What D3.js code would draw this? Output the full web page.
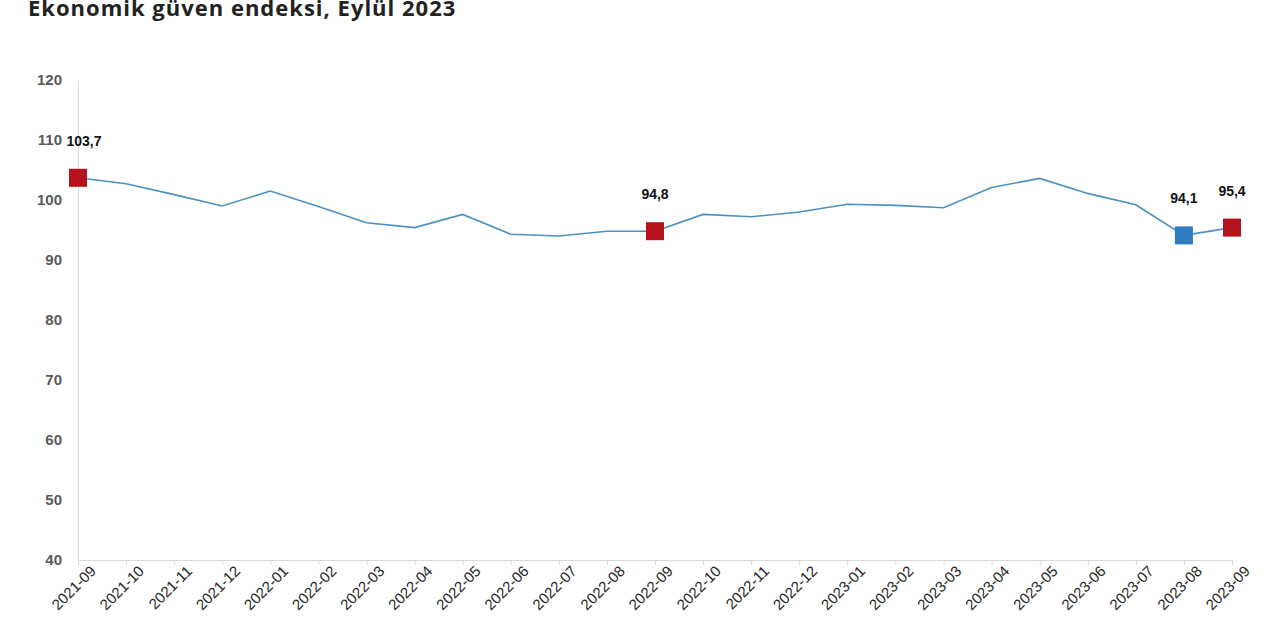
<!DOCTYPE html>
<html><head><meta charset="utf-8">
<script src="https://cdn.jsdelivr.net/npm/d3@7"></script>
<style>body{margin:0;background:#fff}</style></head>
<body><svg id="c" width="1280" height="640"></svg>
<script>
const months = ["2021-09","2021-10","2021-11","2021-12","2022-01","2022-02","2022-03","2022-04","2022-05","2022-06","2022-07","2022-08","2022-09","2022-10","2022-11","2022-12","2023-01","2023-02","2023-03","2023-04","2023-05","2023-06","2023-07","2023-08","2023-09"];
const values = [103.7,102.7,100.9,99.0,101.5,98.9,96.2,95.4,97.6,94.3,94.0,94.8,94.8,97.6,97.2,98.0,99.3,99.1,98.7,102.1,103.6,101.1,99.2,94.1,95.4];
const highlights = [
  {m:"2021-09", c:"#b5121b", label:"103,7"},
  {m:"2022-09", c:"#b5121b", label:"94,8"},
  {m:"2023-08", c:"#2e7bbf", label:"94,1"},
  {m:"2023-09", c:"#b5121b", label:"95,4"}
];
const yTicks = [40,50,60,70,80,90,100,110,120];

const svg = d3.select("#c");
const x = d3.scalePoint().domain(months).range([78,1232]);
const y = d3.scaleLinear().domain([40,120]).range([560,80]);

svg.append("text").attr("x",28).attr("y",16)
  .attr("font-family","Open Sans, sans-serif").attr("font-weight","bold").attr("font-size",22)
  .attr("letter-spacing",1).attr("fill","#222").text("Ekonomik güven endeksi, Eylül 2023");

const yAxis = svg.append("g").attr("transform","translate(78,0)")
  .call(d3.axisLeft(y).tickValues(yTicks).tickSize(0).tickPadding(16));
yAxis.select(".domain").attr("stroke","#d9d9d9");
yAxis.selectAll("text").attr("font-family","Liberation Sans, Arial, sans-serif")
  .attr("font-weight","bold").attr("font-size",15).attr("fill","#595959");

const xAxis = svg.append("g").attr("transform","translate(0,560)")
  .call(d3.axisBottom(x).tickSize(5));
xAxis.select(".domain").attr("stroke","#d9d9d9");
xAxis.selectAll("line").attr("stroke","#d9d9d9");
xAxis.selectAll("text").attr("font-family","Liberation Sans, Arial, sans-serif")
  .attr("font-size",15).attr("fill","#262626")
  .attr("text-anchor","end").attr("dx","0.3em").attr("dy","0.9em")
  .attr("transform","rotate(-45)");

svg.append("path").datum(values)
  .attr("fill","none").attr("stroke","#4a90c2").attr("stroke-width",1.6)
  .attr("d", d3.line().x((d,i)=>x(months[i])).y(d=>y(d)));

const hl = svg.append("g");
highlights.forEach(h=>{
  const v = values[months.indexOf(h.m)];
  hl.append("rect").attr("x",x(h.m)-9).attr("y",y(v)-9).attr("width",18).attr("height",18).attr("fill",h.c);
  hl.append("text").attr("x",x(h.m)+(h.m==="2021-09"?6:0)).attr("y",y(v)-32)
    .attr("text-anchor","middle").attr("font-family","Liberation Sans, Arial, sans-serif")
    .attr("font-weight","bold").attr("font-size",14).attr("fill","#111").text(h.label);
});
</script></body></html>
